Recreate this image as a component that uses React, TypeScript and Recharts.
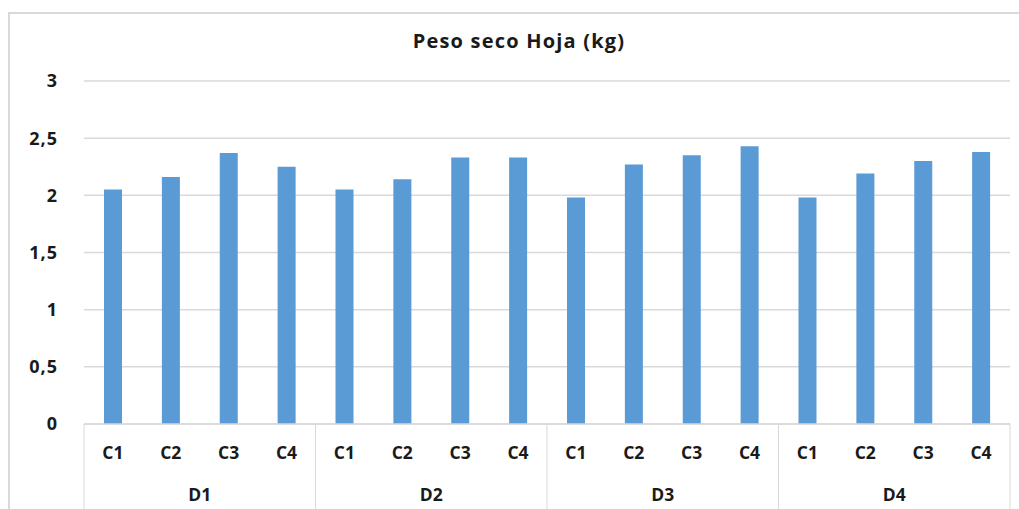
import { Bar, BarChart, CartesianGrid, XAxis, YAxis } from 'recharts'

const doses = ['D1', 'D2', 'D3', 'D4']
const cuts = ['C1', 'C2', 'C3', 'C4']

// peso seco por dosis (kg), en orden C1..C4
const d1Values = [2.05, 2.16, 2.37, 2.25]
const d2Values = [2.05, 2.14, 2.33, 2.33]
const d3Values = [1.98, 2.27, 2.35, 2.43]
const d4Values = [1.98, 2.19, 2.3, 2.38]

const yTicks = [0, 0.5, 1, 1.5, 2, 2.5, 3]

const allValues = [d1Values, d2Values, d3Values, d4Values]

const data = doses.flatMap((d, i) =>
  cuts.map((c, j) => ({ key: `${d}-${c}`, dose: d, cut: c, value: allValues[i][j] })),
)

const FONT = '"Open Sans", "Noto Sans", sans-serif'
const LINE = '#d9d9d9'

function GroupTick(props: any) {
  const { x, y, payload, index } = props
  const half = payload?.offset ?? 28.9
  const row = data[index]
  const first = index % 4 === 0
  const last = index === data.length - 1
  return (
    <g>
      <text
        x={x}
        y={y + 27}
        textAnchor="middle"
        fontFamily={FONT}
        fontWeight={700}
        fontSize={17.5}
        fill="#1a1a1a"
      >
        {row?.cut}
      </text>
      {first && (
        <>
          <line x1={x - half} y1={y - 8} x2={x - half} y2={y + 84} stroke={LINE} />
          <text
            x={x - half + half * 4}
            y={y + 69}
            textAnchor="middle"
            fontFamily={FONT}
            fontWeight={700}
            fontSize={17.5}
            fill="#1a1a1a"
          >
            {row?.dose}
          </text>
        </>
      )}
      {last && <line x1={x + half} y1={y - 8} x2={x + half} y2={y + 84} stroke={LINE} />}
    </g>
  )
}

export default function App() {
  return (
    <div style={{ position: 'absolute', left: 0, top: 0, width: 1019, height: 509, background: '#fff' }}>
      <div
        style={{
          position: 'absolute',
          left: 8,
          top: 12,
          width: 1030,
          height: 520,
          borderLeft: `2px solid ${LINE}`,
          borderTop: `2px solid ${LINE}`,
        }}
      />
      <div
        style={{
          position: 'absolute',
          left: 0,
          top: 27,
          width: 1038,
          textAlign: 'center',
          fontFamily: FONT,
          fontWeight: 700,
          fontSize: 20,
          letterSpacing: 1.2,
          color: '#1a1a1a',
        }}
      >
        Peso seco Hoja (kg)
      </div>
      <div style={{ position: 'absolute', left: 0, top: 0 }}>
        <BarChart
          width={1019}
          height={509}
          data={data}
          margin={{ top: 81, right: 9, left: 24, bottom: 0 }}
          barCategoryGap={0}
        >
          <CartesianGrid vertical={false} stroke={LINE} strokeWidth={1.5} />
          <XAxis
            dataKey="key"
            interval={0}
            height={85}
            axisLine={{ stroke: LINE, strokeWidth: 1.5 }}
            tickLine={false}
            tick={<GroupTick />}
          />
          <YAxis
            domain={[0, 3]}
            ticks={yTicks}
            width={60}
            axisLine={false}
            tickLine={false}
            tickFormatter={(v: number) => String(v).replace('.', ',')}
            tick={{ fontFamily: FONT, fontWeight: 700, fontSize: 18, fill: '#1a1a1a', dx: -18, letterSpacing: 1 }}
          />
          <Bar dataKey="value" fill="#5b9bd5" barSize={18} isAnimationActive={false} />
        </BarChart>
      </div>
    </div>
  )
}
